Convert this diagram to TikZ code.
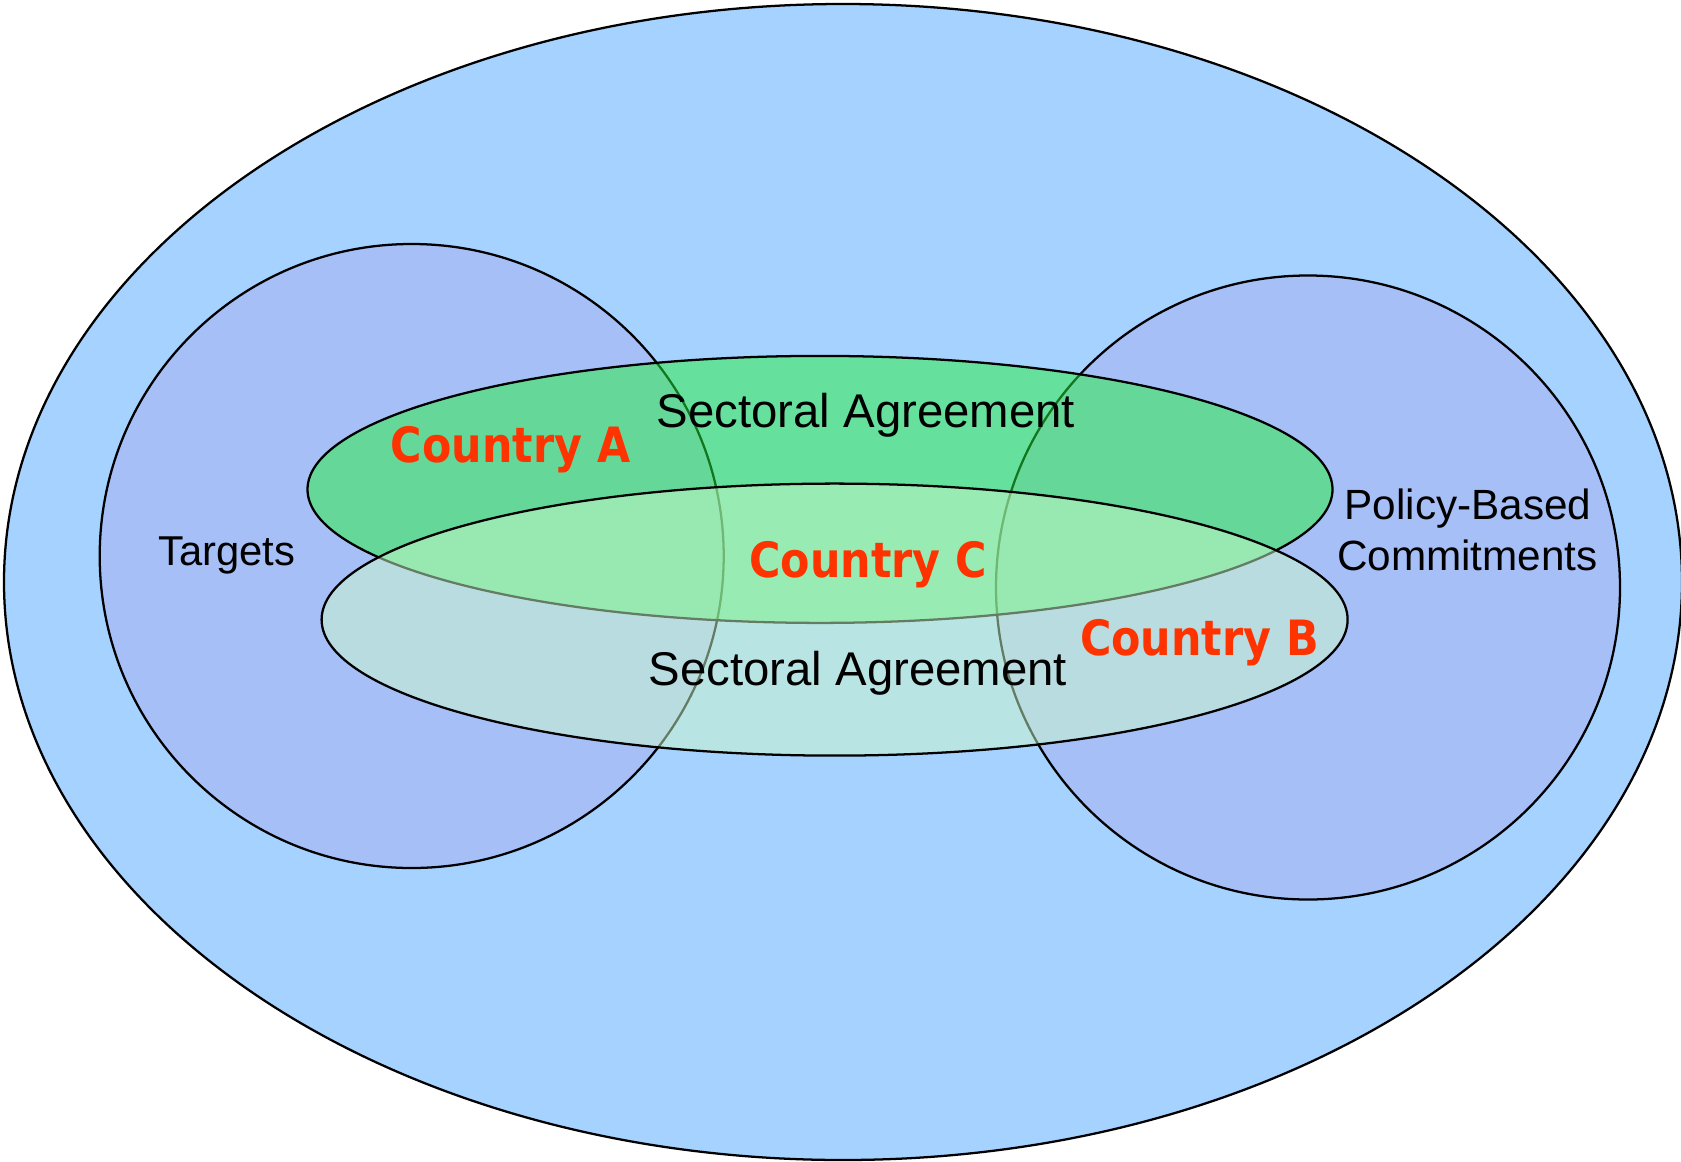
\documentclass[tikz,border=0pt]{standalone}
\usepackage{fontspec}
\setmainfont{Liberation Sans}
\newfontfamily\countryfont[FakeStretch=0.88]{DejaVu Sans}
\usetikzlibrary{shapes.geometric}

\definecolor{outerblue}{RGB}{166,210,255}
\definecolor{circleblue}{RGB}{166,191,247}
\definecolor{sectorgreen}{RGB}{38,239,61}
\definecolor{sectorpale}{RGB}{203,249,201}
\definecolor{countryred}{RGB}{255,51,0}

\tikzset{
  outline/.style={draw=black, line width=1.7pt},
  groupcircle/.style={outline, fill=circleblue},
  upperband/.style={outline, fill=sectorgreen, fill opacity=0.5, draw opacity=1},
  lowerband/.style={outline, fill=sectorpale, fill opacity=0.5, draw opacity=1},
  blacklabel/.style={inner sep=0pt, anchor=base, text=black, align=center},
  countrylabel/.style={inner sep=0pt, anchor=base, text=countryred,
    font=\countryfont\bfseries\fontsize{36.5pt}{40pt}\selectfont},
}

\begin{document}
\begin{tikzpicture}[x=0.75pt, y=-0.75pt]
  \useasboundingbox (0,0) rectangle (1681,1161);

  % outer frame of all commitments
  \fill[outerblue] (843,582) ellipse [x radius=839, y radius=578];
  \draw[outline] (843,582) ellipse [x radius=839, y radius=578];

  % the two groups of countries
  \draw[groupcircle] (411.7,556) circle [radius=312];
  \draw[groupcircle] (1308,587.5) circle [radius=312];

  % the two sectoral agreements
  \draw[upperband] (820,489.4) ellipse [x radius=512.5, y radius=133.5];
  \draw[lowerband] (834.6,619.6) ellipse [x radius=513, y radius=136];

  % labels
  \node[blacklabel, font=\fontsize{31.3pt}{37pt}\selectfont] (targets) at (227,565) {Targets};
  \node[blacklabel, font=\fontsize{31.7pt}{38pt}\selectfont] (policy) at (1468,519) {Policy-Based};
  \node[blacklabel, font=\fontsize{31.7pt}{38pt}\selectfont] (commit) at (1467.5,570) {Commitments};
  \node[blacklabel, font=\fontsize{35.5pt}{42pt}\selectfont] (secup) at (866,427) {Sectoral Agreement};
  \node[blacklabel, font=\fontsize{35.5pt}{42pt}\selectfont] (seclow) at (858,685) {Sectoral Agreement};

  \node[countrylabel] (ca) at (510.5,462) {Country A};
  \node[countrylabel] (cc) at (868,577) {Country C};
  \node[countrylabel] (cb) at (1199.5,655) {Country B};
\end{tikzpicture}
\end{document}
